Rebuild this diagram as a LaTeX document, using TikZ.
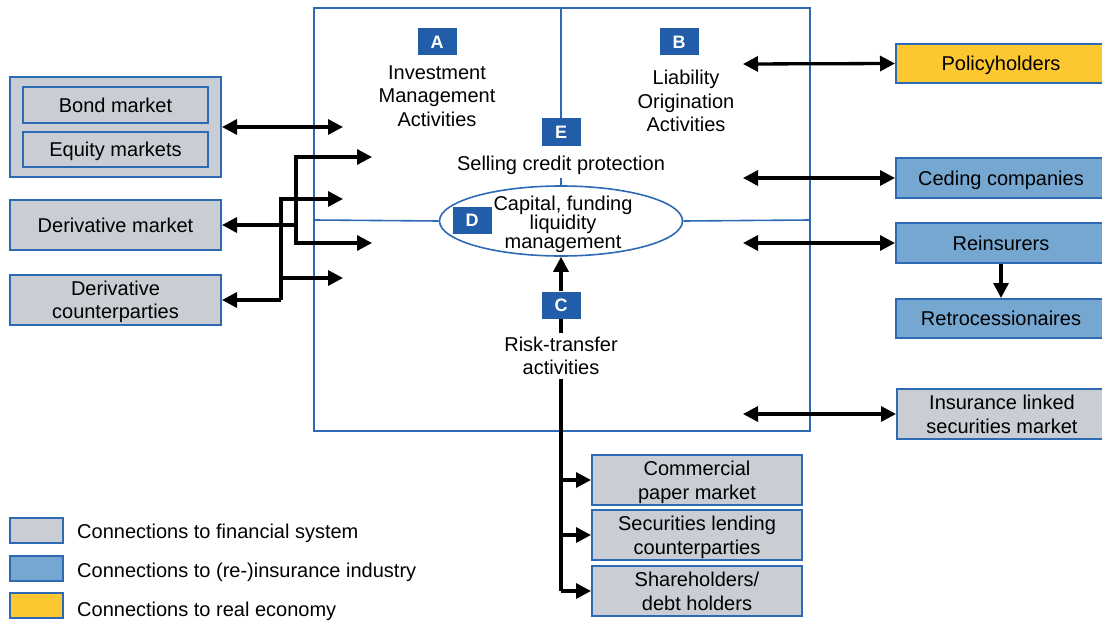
\documentclass[tikz,border=0pt]{standalone}
\usepackage{fontspec}
\setmainfont{Liberation Sans}
\usetikzlibrary{arrows.meta,shapes.geometric}

\definecolor{frameblue}{HTML}{2E6AB4}
\definecolor{letterblue}{HTML}{215DA8}
\definecolor{fingray}{HTML}{C9CDD4}
\definecolor{insblue}{HTML}{75A7D1}
\definecolor{econyellow}{HTML}{FCC730}

\tikzset{
  >={Triangle[length=15pt,width=15pt]},
  frame/.style={draw=frameblue, line width=1.6pt},
  box/.style={draw=frameblue, line width=2pt, align=center, inner sep=0pt,
    text depth=0pt, minimum width=211pt, minimum height=50pt},
  finbox/.style={box, fill=fingray},
  insbox/.style={box, fill=insblue},
  realbox/.style={box, fill=econyellow},
  letter/.style={fill=letterblue, text=white, font=\fontsize{18}{18}\selectfont\bfseries,
    minimum width=39pt, minimum height=27pt, inner sep=0pt},
  link/.style={line width=3.3pt},
}

\begin{document}
\begin{tikzpicture}[x=1pt, y=-1pt, font=\fontsize{20}{23.5}\selectfont]

  \useasboundingbox (0,0) rectangle (1102,623);
  \clip (0,0) rectangle (1102,623);

  % core of the insurer
  \draw[frame] (314,8) rectangle (810,431);

  \node[ellipse, frame, fill=white, minimum width=243pt, minimum height=70pt,
    inner sep=0pt] (capital) at (561,221) {};
  \node[align=center, font=\fontsize{20}{19}\selectfont] (capitaltxt) at (563,224)
  {Capital, funding\\liquidity\\management};
  \node[letter] (dlab) at (472,220) {D};

  \coordinate (topmid) at (561,8);
  \coordinate (midleft) at (314,220);
  \coordinate (midright) at (810,220);
  \draw[frame] (midleft) -- (capital.west);
  \draw[frame] (capital.east) -- (midright);

  \node[letter] (alab) at (437,42) {A};
  \node[letter] (blab) at (679,42) {B};
  \node[letter] (elab) at (561,132) {E};
  \node[letter] (clab) at (561,305) {C};

  \node[align=center] (invest) at (437,96) {Investment\\Management\\Activities};
  \node[align=center] (liab) at (686,101) {Liability\\Origination\\Activities};
  \node (selling) at (561,165) {Selling credit protection};
  \node[align=center] (risk) at (561,356) {Risk-transfer\\activities};

  \draw[frame] (topmid) -- (elab.north);
  \draw[frame] (selling.south) -- (capital.north);

  % financial markets on the left
  \node[finbox, minimum height=100pt] (grp) at (115.5,127) {};
  \node[finbox, minimum width=185pt, minimum height=36pt] (bond) at (115.5,105) {Bond market};
  \node[finbox, minimum width=185pt, minimum height=35pt] (equity) at (115.5,149.5) {Equity markets};
  \node[finbox] (derivmkt) at (115.5,225) {Derivative market};
  \node[finbox] (derivcp) at (115.5,300) {Derivative\\counterparties};

  \coordinate (bondin) at (343,127);
  \draw[link, <->] (grp.east) -- (bondin);

  \coordinate (dmJ) at (296,225);
  \coordinate (dmA) at (372,157);
  \coordinate (dmB) at (372,243);
  \draw[link, ->] (dmJ) -- (derivmkt.east);
  \draw[link, ->] (dmJ) |- (dmA);
  \draw[link, ->] (dmJ) |- (dmB);

  \coordinate (dcJ) at (281,300);
  \coordinate (dcA) at (343,199);
  \coordinate (dcB) at (343,278);
  \draw[link, ->] (dcJ) -- (derivcp.east);
  \draw[link, ->] (dcJ) |- (dcA);
  \draw[link, ->] (dcJ) |- (dcB);

  % (re-)insurance and real economy on the right
  \node[realbox, minimum width=210pt, minimum height=39pt] (policy) at (1001,63.5) {Policyholders};
  \node[insbox, minimum width=210pt, minimum height=40pt] (ceding) at (1001,178) {Ceding companies};
  \node[insbox, minimum width=210pt, minimum height=40pt] (reins) at (1001,243) {Reinsurers};
  \node[insbox, minimum width=210pt, minimum height=39pt] (retro) at (1001,318.5) {Retrocessionaires};
  \node[finbox, minimum width=210pt] (ils) at (1002,414) {Insurance linked\\securities market};

  \coordinate (polin) at (743,64);
  \coordinate (cedin) at (743,178);
  \coordinate (reinin) at (743,243);
  \coordinate (ilsin) at (743,414);
  \draw[link, <->] (polin) -- (policy.west);
  \draw[link, <->] (cedin) -- (ceding.west);
  \draw[link, <->] (reinin) -- (reins.west);
  \draw[link, <->] (ilsin) -- (ils.west);
  \draw[link, ->] (reins) -- (retro);

  % funding below
  \node[finbox, minimum width=210pt] (cpm) at (697,480) {Commercial\\paper market};
  \node[finbox, minimum width=210pt] (seclend) at (697,535) {Securities lending\\counterparties};
  \node[finbox, minimum width=210pt] (share) at (697,591) {Shareholders/\\debt holders};

  \coordinate (trunk) at (561,591);
  \draw[link] (trunk) -- (risk.south);
  \draw[link] (risk.north) -- (clab.south);
  \draw[link, ->] (clab.north) -- (capital.south);
  \draw[link, ->] (trunk |- cpm.west) -- (cpm.west);
  \draw[link, ->] (trunk |- seclend.west) -- (seclend.west);
  \draw[link, ->] (trunk) -- (share.west);

  % legend
  \node[finbox, minimum width=53pt, minimum height=25pt] (legfin) at (36.5,530.5) {};
  \node[insbox, minimum width=53pt, minimum height=25pt] (legins) at (36.5,568.5) {};
  \node[realbox, minimum width=53pt, minimum height=25pt] (legreal) at (36.5,605.5) {};
  \node[anchor=west, inner sep=0pt] (legfintxt) at (77,533) {Connections to financial system};
  \node[anchor=west, inner sep=0pt] (leginstxt) at (77,572) {Connections to (re-)insurance industry};
  \node[anchor=west, inner sep=0pt] (legrealtxt) at (77,611) {Connections to real economy};

\end{tikzpicture}
\end{document}
